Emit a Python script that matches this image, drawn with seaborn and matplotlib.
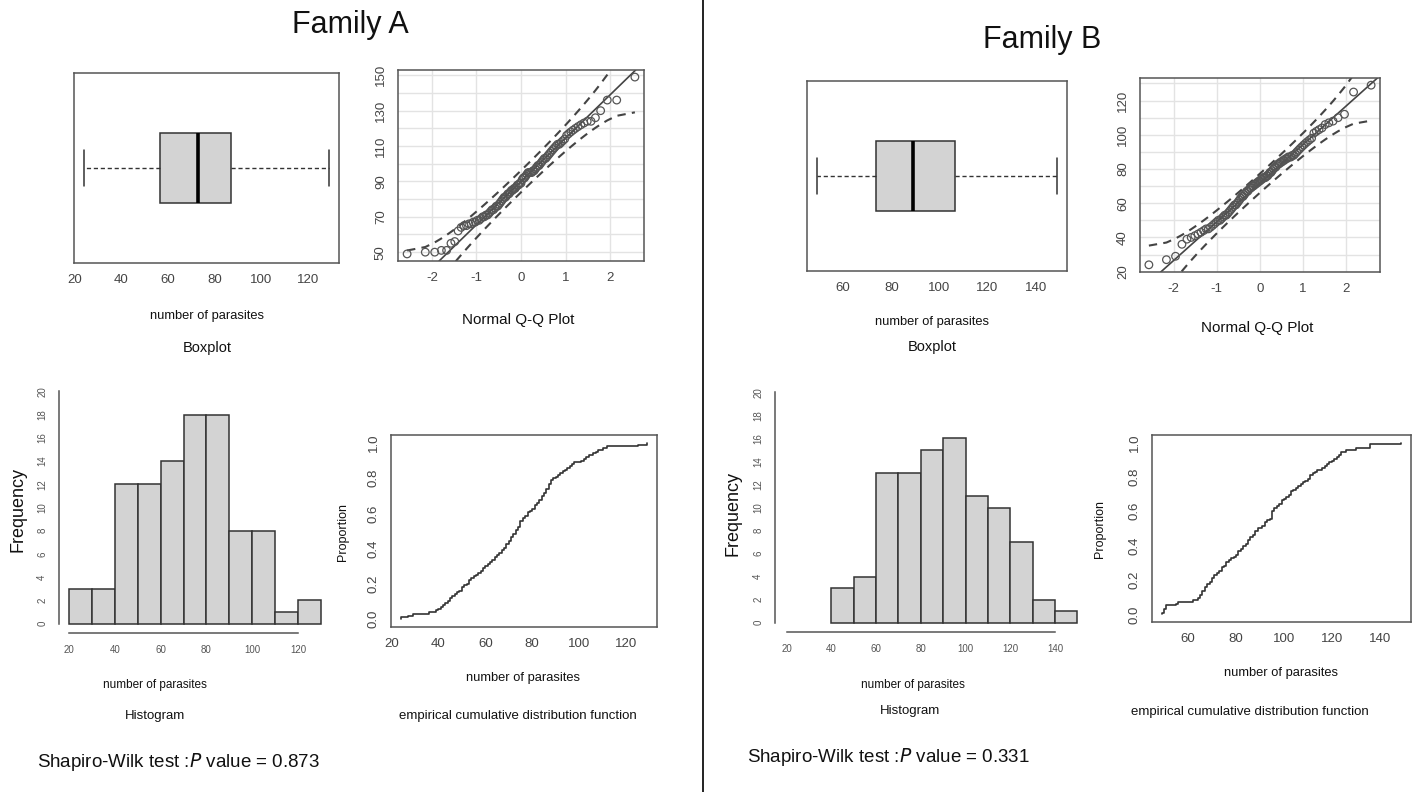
import numpy as np
import matplotlib
matplotlib.use("Agg")
import matplotlib.pyplot as plt
from matplotlib.lines import Line2D
import seaborn as sns
from statistics import NormalDist

# ---- data: parasite counts per host ----
sample_1 = [24, 27, 29, 36, 39, 40,
            41, 42, 43, 44, 45, 45, 46, 47, 48, 49, 50, 50,
            51, 52, 53, 53, 54, 55, 56, 57, 58, 59, 59, 60,
            61, 62, 63, 64, 64, 65, 66, 67, 67, 68, 69, 69, 70, 70,
            71, 71, 72, 72, 73, 73, 74, 74, 75, 75, 75, 76, 76, 77, 78, 78, 79, 80,
            81, 81, 82, 83, 83, 84, 84, 85, 85, 86, 86, 87, 87, 87, 88, 88, 89, 90,
            91, 92, 93, 94, 95, 96, 97, 98,
            101, 102, 103, 104, 106, 107, 108, 110,
            112, 125, 129]

sample_2 = [49, 50, 50, 51, 51, 55, 56,
            62, 64, 65, 65, 66, 66, 67, 67, 68, 68, 69, 70, 70,
            71, 71, 72, 73, 74, 74, 75, 76, 76, 77, 78, 79, 80,
            81, 81, 82, 83, 83, 84, 85, 85, 86, 86, 87, 88, 88, 89, 89,
            91, 92, 92, 93, 94, 95, 95, 95, 95, 96, 96, 97, 98, 99, 99, 100,
            101, 102, 103, 103, 104, 105, 106, 107, 108, 109, 110,
            111, 111, 112, 113, 114, 116, 117, 118, 119, 120,
            121, 122, 123, 124, 124, 126, 130,
            136, 136, 149]

families = ["Family A", "Family B"]
shapiro_p = ["0.873", "0.331"]

# ---- figure setup ----
sns.set_theme(style="white")
plt.rcParams["font.family"] = ["Liberation Sans", "DejaVu Sans"]
plt.rcParams["axes.unicode_minus"] = False
NARROW = ["Liberation Sans Narrow", "Liberation Sans", "DejaVu Sans"]
INK = "#333333"
FRAME = "#555555"
W, H = 1422, 792
fig = plt.figure(figsize=(W / 100, H / 100), dpi=100)
fig.patch.set_facecolor("white")


def place(l, t, r, b):
    return fig.add_axes([l / W, 1 - b / H, (r - l) / W, (b - t) / H])


def rlim(vals):
    lo, hi = min(vals), max(vals)
    d = 0.04 * (hi - lo)
    return lo - d, hi + d


def frame(ax):
    for s in ax.spines.values():
        s.set_visible(True)
        s.set_color(FRAME)
        s.set_linewidth(1.1)
    ax.tick_params(axis="both", direction="out", length=5, width=1, color=FRAME,
                   labelcolor="#444444", pad=3)


def text(x, y, s, size, family=None, **kw):
    fig.text(x / W, 1 - y / H, s, fontsize=size, ha=kw.pop("ha", "center"),
             va=kw.pop("va", "center"), family=family or plt.rcParams["font.family"],
             color=kw.pop("color", "#111111"), **kw)


def boxpanel(rect, data, ticks, label_xy, cap_xy):
    ax = place(*rect)
    sns.boxplot(x=data, ax=ax, orient="h", width=0.37, color="#D3D3D3", saturation=1,
                linecolor=INK, linewidth=1.1, whis=1.5, showfliers=False,
                whiskerprops={"linestyle": (0, (3, 2)), "linewidth": 1.0},
                medianprops={"linewidth": 2.6, "color": "black"})
    ax.set_ylim(0.5, -0.5)
    ax.set_xlim(*rlim(data))
    ax.set_xticks(ticks)
    ax.set_yticks([])
    ax.set_xlabel("")
    frame(ax)
    ax.tick_params(axis="x", labelsize=9.5)
    text(*label_xy, "number of parasites", 9.3)
    text(*cap_xy, "Boxplot", 10.5, family=NARROW)


def qqpanel(rect, data, yticks, ylabels, cap_xy):
    ax = place(*rect)
    y = np.sort(np.asarray(data, dtype=float))
    n = len(y)
    nd = NormalDist()
    p = (np.arange(1, n + 1) - 0.5) / n
    z = np.array([nd.inv_cdf(v) for v in p])
    q1, q3 = np.percentile(y, [25, 75])
    slope = (q3 - q1) / (nd.inv_cdf(0.75) - nd.inv_cdf(0.25))
    inter = q1 - slope * nd.inv_cdf(0.25)
    fit = inter + slope * z
    se = slope / np.array([nd.pdf(v) for v in z]) * np.sqrt(p * (1 - p) / n)
    crit = nd.inv_cdf(0.975)

    ax.set_xlim(*rlim(z))
    ax.set_ylim(*rlim(y))
    ax.set_xticks([-2, -1, 0, 1, 2])
    ax.set_yticks(yticks)
    ax.set_yticklabels([str(t) if t in ylabels else "" for t in yticks])
    ax.grid(True, color="#E3E3E3", linewidth=1.0)
    ax.set_axisbelow(True)
    sns.lineplot(x=z, y=fit + crit * se, ax=ax, color="#444444", linewidth=1.5,
                 linestyle=(0, (4, 3)), estimator=None)
    sns.lineplot(x=z, y=fit - crit * se, ax=ax, color="#444444", linewidth=1.5,
                 linestyle=(0, (4, 3)), estimator=None)
    ax.axline((0, inter), slope=slope, color="#444444", linewidth=1.2)
    sns.scatterplot(x=z, y=y, ax=ax, s=30, facecolor="none", edgecolor="#555555",
                    linewidth=0.9, zorder=3)
    frame(ax)
    ax.tick_params(axis="both", labelsize=9.5)
    for lab in ax.get_yticklabels():
        lab.set_rotation(90)
        lab.set_va("center")
    text(*cap_xy, "Normal Q-Q Plot", 11, family=NARROW)


def histpanel(rect, data, xlim, xticks, ylab_xy, lab_xy, cap_xy):
    ax = place(*rect)
    edges = np.arange(xlim[0], xlim[1] + 1, 10)
    lo = min(data)
    edges = edges[edges >= (lo // 10) * 10]
    # right-closed bins as in R's hist()
    sns.histplot(x=data, bins=edges + 1e-6, ax=ax, color="#D3D3D3", edgecolor=INK,
                 linewidth=1.1, alpha=1)
    d = 0.04 * (xlim[1] - xlim[0])
    ax.set_xlim(xlim[0] - d, xlim[1] + d)
    ax.set_ylim(-0.8, 20.8)
    ax.set_xticks(xticks)
    ax.set_yticks(np.arange(0, 21, 2))
    ax.set_xlabel("")
    ax.set_ylabel("")
    for s in ["top", "right"]:
        ax.spines[s].set_visible(False)
    for s in ["left", "bottom"]:
        ax.spines[s].set_color(FRAME)
        ax.spines[s].set_linewidth(1.1)
    ax.spines["left"].set_bounds(0, 20)
    ax.spines["bottom"].set_bounds(xticks[0], xticks[-1])
    ax.tick_params(axis="both", direction="out", length=5, width=1, color=FRAME,
                   labelcolor="#555555", labelsize=7)
    for lab in ax.get_yticklabels():
        lab.set_rotation(90)
        lab.set_va("center")
    text(*ylab_xy, "Frequency", 13, family=NARROW, rotation=90)
    text(*lab_xy, "number of parasites", 8.5, family=NARROW)
    text(*cap_xy, "Histogram", 9.5, family=NARROW)


def ecdfpanel(rect, data, xticks, ylab_xy, lab_xy, cap_xy):
    ax = place(*rect)
    sns.ecdfplot(x=data, ax=ax, color="#333333", linewidth=1.2)
    ax.set_xlim(*rlim(data))
    ax.set_ylim(-0.044, 1.044)
    ax.set_xticks(xticks)
    ax.set_yticks([0, 0.2, 0.4, 0.6, 0.8, 1.0])
    ax.set_yticklabels(["0.0", "0.2", "0.4", "0.6", "0.8", "1.0"])
    ax.set_xlabel("")
    ax.set_ylabel("")
    frame(ax)
    ax.tick_params(axis="both", labelsize=9.5)
    for lab in ax.get_yticklabels():
        lab.set_rotation(90)
        lab.set_va("center")
    text(*ylab_xy, "Proportion", 9, rotation=90)
    text(*lab_xy, "number of parasites", 9.3)
    text(*cap_xy, "empirical cumulative distribution function", 9.5, family=NARROW)


# ---- Family A ----
boxpanel((74, 73, 339, 263), sample_1, [20, 40, 60, 80, 100, 120], (207, 316), (207, 348))
qqpanel((398, 70, 644, 261), sample_2, list(range(50, 151, 10)), [50, 70, 90, 110, 130, 150],
        (518, 320))
histpanel((59, 382, 331, 633), sample_1, (20, 130), [20, 40, 60, 80, 100, 120],
          (18, 510), (155, 685), (155, 716))
ecdfpanel((391, 435, 657, 627), sample_1, [20, 40, 60, 80, 100, 120],
          (343, 532), (523, 678), (518, 716))

# ---- Family B ----
boxpanel((807, 81, 1067, 271), sample_2, [60, 80, 100, 120, 140], (932, 322), (932, 347))
qqpanel((1140, 78, 1380, 272), sample_1, list(range(20, 131, 10)), [20, 40, 60, 80, 100, 120],
        (1257, 328))
histpanel((775, 383, 1089, 632), sample_2, (20, 150), [20, 40, 60, 80, 100, 120, 140],
          (733, 513), (913, 685), (910, 711))
ecdfpanel((1152, 435, 1411, 622), sample_2, [60, 80, 100, 120, 140],
          (1100, 529), (1281, 673), (1250, 712))

# ---- titles, test results, divider ----
text(350, 25, families[0], 22)
text(1042, 40, families[1], 22)
text(37, 762, f"Shapiro-Wilk test :$\\it{{P}}$ value = {shapiro_p[0]}", 13.5, ha="left")
text(747, 757, f"Shapiro-Wilk test :$\\it{{P}}$ value = {shapiro_p[1]}", 13.5, ha="left")
fig.add_artist(Line2D([703 / W, 703 / W], [0, 1], color="#222222", linewidth=1.4))

fig.savefig("out.png", dpi=100, facecolor="white")
